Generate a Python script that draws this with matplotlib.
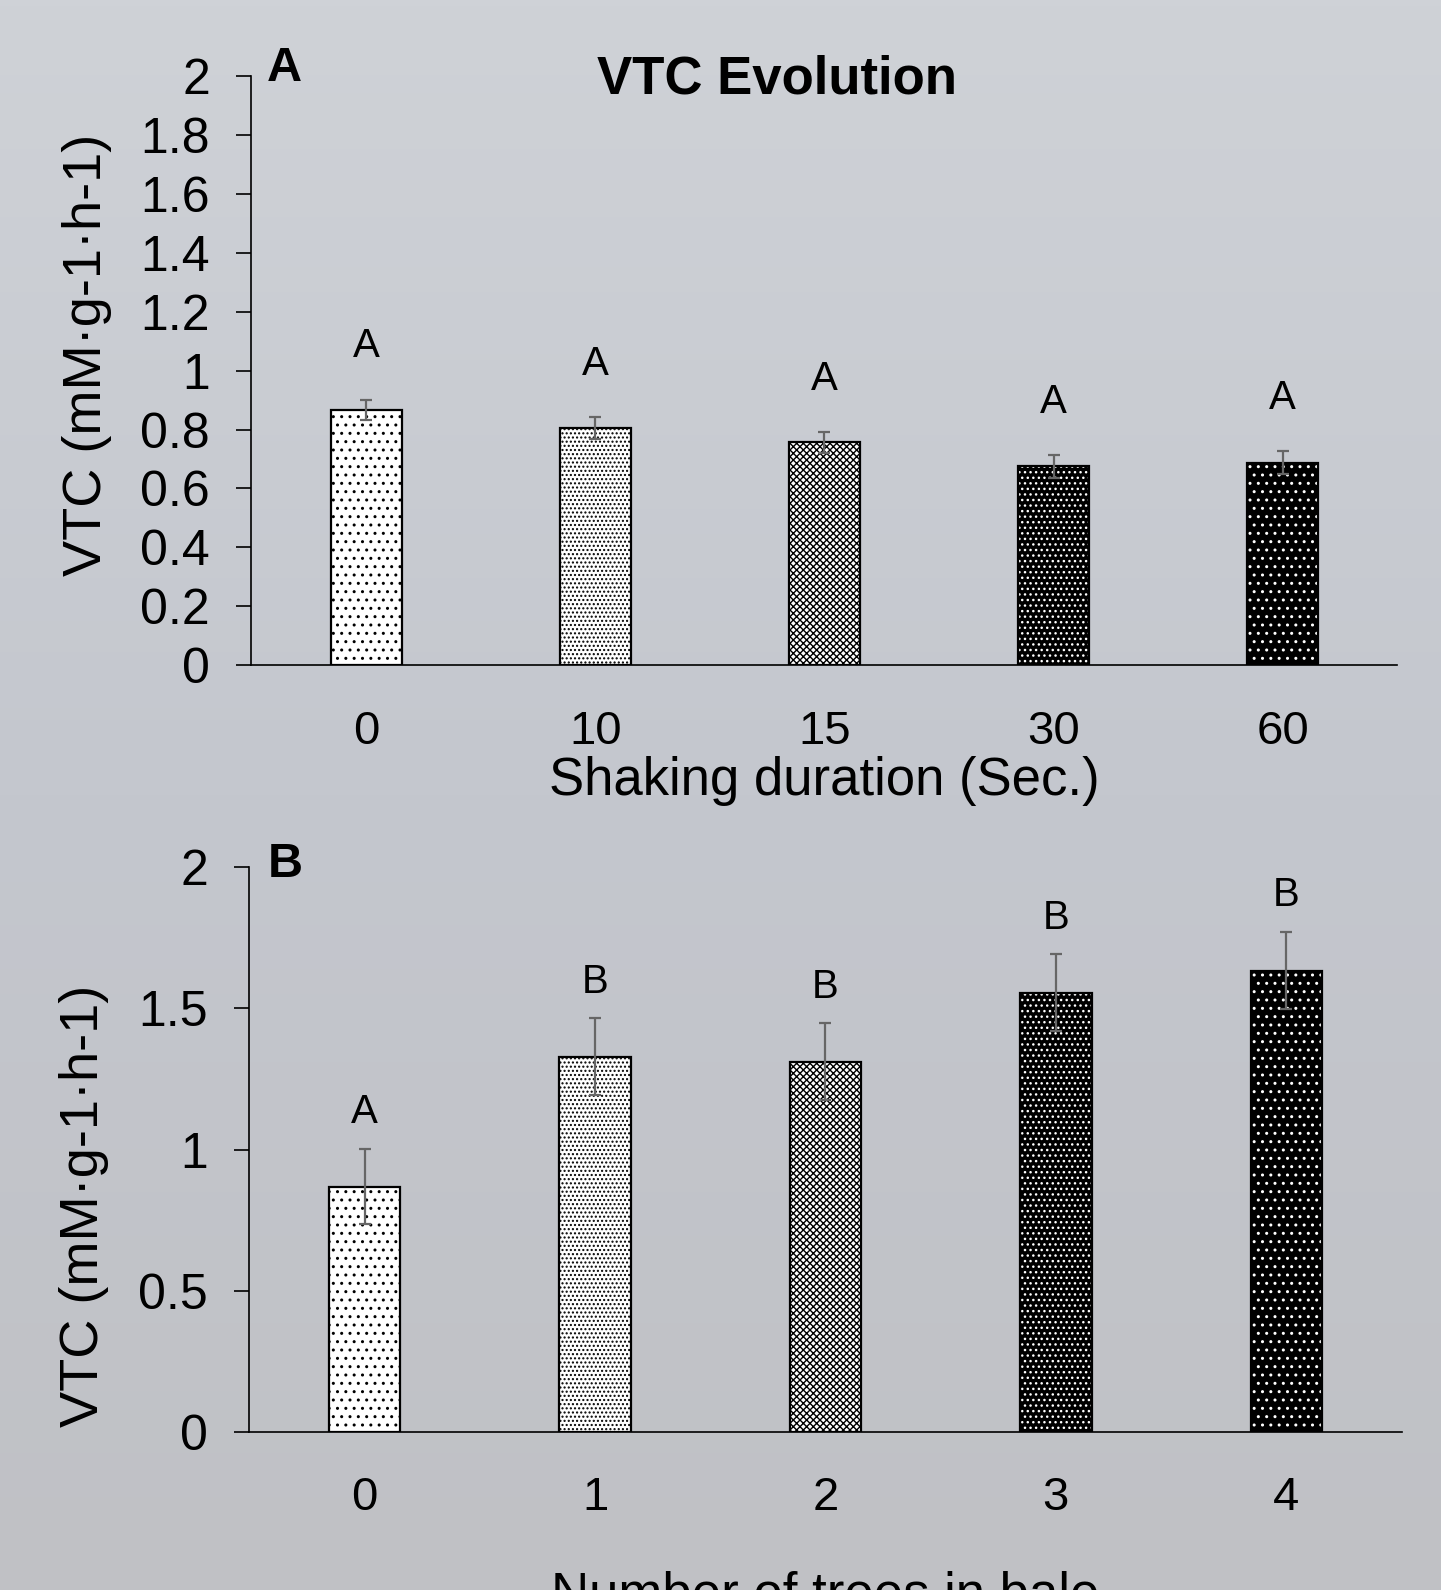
import numpy as np
import matplotlib
matplotlib.use("Agg")
import matplotlib.pyplot as plt

plt.rcParams["font.family"] = ["Liberation Sans", "DejaVu Sans"]
plt.rcParams["hatch.linewidth"] = 1.0

# panel A - shaking duration
shake_labels = ["0", "10", "15", "30", "60"]
shake_vtc = [0.867, 0.806, 0.757, 0.675, 0.688]
shake_err = [0.035, 0.037, 0.035, 0.038, 0.038]
shake_groups = ["A", "A", "A", "A", "A"]

# panel B - number of trees in bale
trees_labels = ["0", "1", "2", "3", "4"]
trees_vtc = [0.869, 1.329, 1.311, 1.555, 1.634]
trees_err = [0.133, 0.136, 0.136, 0.136, 0.136]
trees_groups = ["A", "B", "B", "B", "B"]

# bar fill styles (face, hatch, hatch colour)
styles = [("white", "..", "black"),
          ("white", "....", "black"),
          ("white", "xxxxx", "black"),
          ("black", "...", "white"),
          ("black", "..", "white")]

fig = plt.figure(figsize=(14.41, 15.90), dpi=100)

# soft grey-blue gradient background
bg = fig.add_axes([0, 0, 1, 1], zorder=-10)
top = np.array([207, 210, 215]) / 255
mid = np.array([196, 199, 206]) / 255
bot = np.array([192, 193, 197]) / 255
rows = []
for v in np.linspace(0, 1, 256):
    if v < 0.5:
        rows.append(top + (mid - top) * v / 0.5)
    else:
        rows.append(mid + (bot - mid) * (v - 0.5) / 0.5)
img = np.array(rows)[:, None, :]
bg.imshow(img, aspect="auto", extent=[0, 1, 0, 1])
bg.axis("off")


def panel(ax, labels, vals, errs, groups, xlabel, ypos, letter_off, xlabelpad):
    x = np.arange(len(labels))
    for i in range(len(labels)):
        face, hatch, hcol = styles[i]
        ax.bar(x[i], vals[i], width=0.31, color=face, edgecolor=hcol,
               hatch=hatch, linewidth=0, zorder=2)
        ax.bar(x[i], vals[i], width=0.31, fill=False, edgecolor="black",
               linewidth=1.6, zorder=3)
    ax.errorbar(x, vals, yerr=errs, fmt="none", ecolor="#666666",
                elinewidth=1.6, capsize=4.5, capthick=1.6, zorder=4)
    for i in range(len(labels)):
        ax.text(x[i], vals[i] + errs[i] + letter_off, groups[i],
                ha="center", va="center", fontsize=29)
    ax.set_xlim(-0.5, len(labels) - 0.5)
    ax.set_ylim(0, 2)
    ax.set_xticks(x)
    ax.set_xticklabels(labels, fontsize=34)
    ax.tick_params(axis="x", length=0, pad=32)
    ax.tick_params(axis="y", length=11, width=1.2, pad=19, labelsize=36,
                   direction="out")
    ax.spines["top"].set_visible(False)
    ax.spines["right"].set_visible(False)
    ax.spines["left"].set_linewidth(1.2)
    ax.spines["bottom"].set_linewidth(1.2)
    ax.set_facecolor("none")
    ax.set_ylabel("VTC (mM·g-1·h-1)", fontsize=39)
    ax.yaxis.set_label_coords(-0.122, ypos)
    ax.set_xlabel(xlabel, fontsize=38, labelpad=xlabelpad)


axA = fig.add_axes([0.1745, 0.5816, 0.7952, 0.3706])
panel(axA, shake_labels, shake_vtc, shake_err, shake_groups,
      "Shaking duration (Sec.)", 0.527, 0.18, 2)
axA.set_yticks(np.arange(0, 2.01, 0.2))
axA.set_yticklabels(["0", "0.2", "0.4", "0.6", "0.8", "1", "1.2", "1.4",
                     "1.6", "1.8", "2"])

axB = fig.add_axes([0.1731, 0.0994, 0.7995, 0.3552])
panel(axB, trees_labels, trees_vtc, trees_err, trees_groups,
      "Number of trees in bale", 0.40, 0.13, 36)
axB.set_yticks([0, 0.5, 1, 1.5, 2])
axB.set_yticklabels(["0", "0.5", "1", "1.5", "2"])

fig.text(0.539, 0.950, "VTC Evolution", ha="center", va="center",
         fontsize=38, fontweight="bold")
fig.text(0.197, 0.957, "A", ha="center", va="center", fontsize=35,
         fontweight="bold")
fig.text(0.198, 0.456, "B", ha="center", va="center", fontsize=35,
         fontweight="bold")

fig.savefig("out.png", dpi=100)
